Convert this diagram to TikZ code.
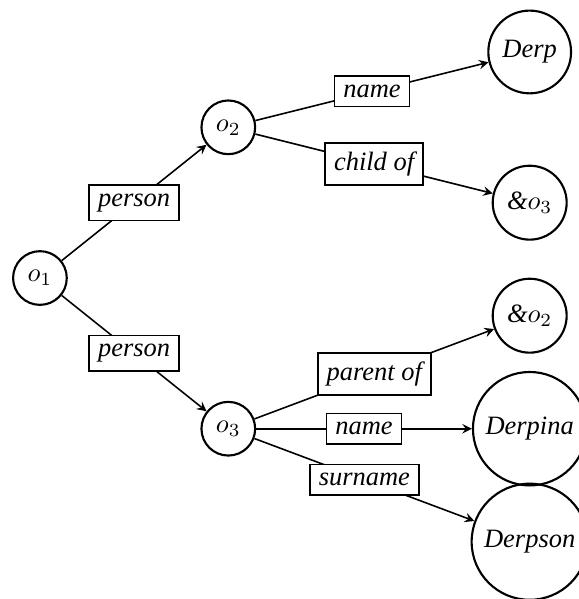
\documentclass[tikz,border=0pt]{standalone}
\usepackage{fontspec}
\setmainfont{Liberation Serif}
\usetikzlibrary{positioning,arrows}
\tikzstyle{obj}=[draw,circle,thick,font=\itshape]
\tikzstyle{attr}=[draw,fill=white,semithick,font=\itshape]
\tikzstyle{arr}=[-stealth,semithick]

\begin{document}
\begin{tikzpicture}[on grid]
      \useasboundingbox (-0.53,-4.26) rectangle (7.15,3.69);
      \node (o1) [obj] {$o_1$};
      \node (o2) [obj, above right=2cm and 2.5cm of o1] {$o_2$};
      \node (o3) [obj, below right=2cm and 2.5cm of o1] {$o_3$};
      \node (D1) [obj, above right=1cm and 4cm of o2] {Derp};
      \node (R3) [obj, below right=1cm and 4cm of o2] {\&$o_3$};
      \node (R2) [obj, above right=1.5cm and 4cm of o3] {\&$o_2$};
      \node (D2) [obj, right=4cm of o3] {Derpina};
      \node (D3) [obj, below right=1.5cm and 4cm of o3] {Derpson};

      \draw[arr] (o1) -- node[attr] {person} (o2);
      \draw[arr] (o1) -- node[attr] {person} (o3);
      \draw[arr] (o2) -- node[attr] {name} (D1);
      \draw[arr] (o2) -- node[attr] {child of} (R3);
      \draw[arr] (o3) -- node[attr] {parent of} (R2);
      \draw[arr] (o3) -- node[attr] {name} (D2);
      \draw[arr] (o3) -- node[attr] {surname} (D3);
    \end{tikzpicture}
\end{document}
